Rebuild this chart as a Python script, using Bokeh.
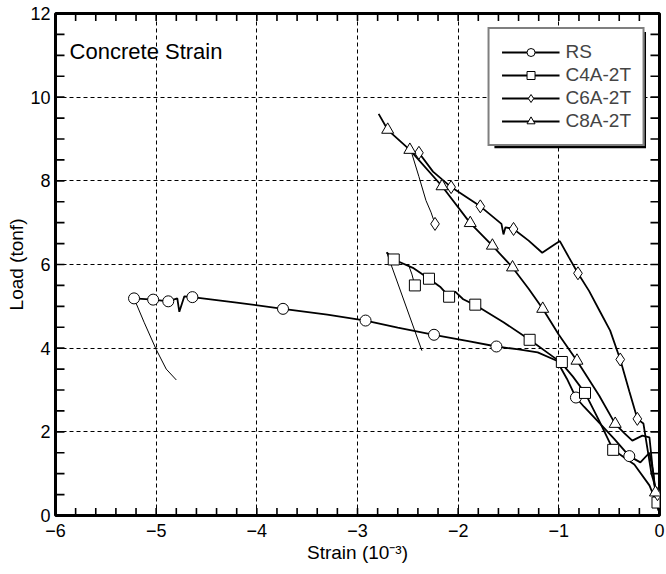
import numpy as np
from bokeh.plotting import figure
from bokeh.models import (Range1d, SingleIntervalTicker, Legend, LegendItem,
                          BoxAnnotation, Label)
from bokeh.embed import file_html
from bokeh.resources import INLINE

# ---------------- data ----------------
x_ticks = [-6, -5, -4, -3, -2, -1, 0]
y_ticks = [0, 2, 4, 6, 8, 10, 12]

rs_x = [0.0, -0.03, -0.06, -0.10, -0.19, -0.30, -0.45, -0.60, -0.75, -0.83, -0.92, -1.02, -1.21,
        -1.40, -1.62, -1.90, -2.24, -2.60, -2.92, -3.30, -3.74, -4.20, -4.64, -4.72, -4.77,
        -4.79, -4.88, -5.03, -5.22]
rs_y = [0.05, 0.30, 1.00, 1.50, 1.27, 1.42, 1.83, 2.22, 2.60, 2.82, 3.27, 3.70, 3.90,
        3.97, 4.04, 4.17, 4.32, 4.49, 4.66, 4.80, 4.94, 5.09, 5.22, 5.24, 4.87,
        5.19, 5.12, 5.16, 5.19]
rs_unload_x = [-5.22, -5.12, -5.00, -4.90, -4.80]
rs_unload_y = [5.19, 4.62, 3.97, 3.50, 3.24]
rs_mx = [-5.22, -5.03, -4.88, -4.64, -3.74, -2.92, -2.24, -1.62, -0.83, -0.30]
rs_my = [5.19, 5.16, 5.12, 5.22, 4.94, 4.66, 4.32, 4.04, 2.82, 1.42]

c4_x = [0.0, -0.03, -0.10, -0.25, -0.46, -0.60, -0.74, -0.86, -0.98, -1.10, -1.29, -1.55,
        -1.83, -1.95, -2.03, -2.09, -2.18, -2.29, -2.45, -2.64, -2.71]
c4_y = [0.05, 0.31, 0.72, 1.22, 1.57, 2.27, 2.93, 3.32, 3.66, 3.87, 4.20, 4.62,
        5.03, 5.17, 5.35, 5.23, 5.47, 5.66, 5.92, 6.12, 6.29]
c4_unload_x = [-2.71, -2.36, np.nan, -2.49, -2.46, -2.43]
c4_unload_y = [6.29, 3.94, np.nan, 5.97, 5.77, 5.50]
c4_mx = [-2.64, -2.43, -2.29, -2.09, -1.83, -1.29, -0.97, -0.74, -0.46, -0.02]
c4_my = [6.12, 5.50, 5.66, 5.23, 5.04, 4.20, 3.67, 2.93, 1.57, 0.31]

c6_x = [0.0, -0.02, -0.08, -0.12, -0.16, -0.22, -0.30, -0.39, -0.49, -0.59, -0.70, -0.81,
        -0.90, -0.99, -1.08, -1.165, -1.30, -1.45, -1.53, -1.55, -1.57, -1.78, -2.07,
        -2.25, -2.39, -2.46]
c6_y = [0.05, 0.51, 1.00, 1.60, 2.20, 2.31, 2.97, 3.73, 4.42, 4.87, 5.37, 5.79,
        6.17, 6.56, 6.42, 6.28, 6.57, 6.85, 6.89, 6.72, 6.97, 7.39, 7.85,
        8.22, 8.67, 8.69]
c6_unload_x = [-2.46, -2.39, -2.32, -2.27, -2.23]
c6_unload_y = [8.65, 8.10, 7.53, 7.25, 6.97]
c6_mx = [-2.39, -2.07, -1.78, -1.45, -2.23, -0.81, -0.39, -0.22, -0.02]
c6_my = [8.67, 7.85, 7.39, 6.85, 6.97, 5.79, 3.73, 2.31, 0.51]

c8_x = [0.0, -0.04, -0.07, -0.10, -0.17, -0.27, -0.35, -0.44, -0.60, -0.82, -1.00, -1.16,
        -1.30, -1.46, -1.66, -1.88, -2.16, -2.48, -2.70, -2.79]
c8_y = [0.05, 0.55, 1.17, 1.87, 1.91, 1.79, 1.97, 2.19, 2.87, 3.70, 4.32, 4.94,
        5.42, 5.93, 6.45, 6.99, 7.87, 8.74, 9.22, 9.60]
c8_mx = [-2.70, -2.48, -2.16, -1.88, -1.66, -1.46, -1.16, -0.82, -0.44, -0.04]
c8_my = [9.22, 8.74, 7.87, 6.99, 6.45, 5.93, 4.94, 3.70, 2.19, 0.55]

FONT = "Liberation Sans"
X0, X1 = x_ticks[0], x_ticks[-1]
Y0, Y1 = y_ticks[0], y_ticks[-1]

p = figure(width=666, height=574, x_range=Range1d(X0, X1), y_range=Range1d(Y0, Y1),
           output_backend="svg", toolbar_location=None,
           min_border_left=55, min_border_right=7, min_border_top=13, min_border_bottom=59,
           x_axis_label="Strain (10\u207b\u00b3)", y_axis_label="Load (tonf)")

p.outline_line_color = "black"
p.outline_line_width = 3
p.background_fill_color = "white"

xt = SingleIntervalTicker(interval=1, num_minor_ticks=5)
yt = SingleIntervalTicker(interval=2, num_minor_ticks=4)
p.xaxis.ticker = xt
p.yaxis.ticker = yt
p.xgrid.ticker = xt
p.ygrid.ticker = yt

for ax in (p.xaxis[0], p.yaxis[0]):
    ax.axis_line_color = None
    ax.major_tick_line_color = None
    ax.minor_tick_line_color = None
    ax.major_tick_in = 0
    ax.major_tick_out = 0
    ax.minor_tick_in = 0
    ax.minor_tick_out = 0
    ax.major_label_text_font = FONT
    ax.major_label_text_font_size = "18px"
    ax.major_label_text_color = "black"
    ax.axis_label_text_font = FONT
    ax.axis_label_text_font_size = "19px"
    ax.axis_label_text_font_style = "normal"
    ax.axis_label_text_color = "black"
p.xaxis.major_label_standoff = 8
p.xaxis.axis_label_standoff = 2
p.yaxis.major_label_standoff = 5
p.yaxis.axis_label_standoff = 0

for g in (p.xgrid[0], p.ygrid[0]):
    g.grid_line_color = "black"
    g.grid_line_width = 1
    g.grid_line_dash = "4 3"
    g.grid_line_alpha = 1

# inward ticks on all four sides, drawn as short segments from the frame edges
XPX = (X1 - X0) / 603.0   # data units per pixel (x)
YPX = (Y1 - Y0) / 501.0   # data units per pixel (y)
xm = np.linspace(X0, X1, int(round((X1 - X0) / 0.2)) + 1)
ym = np.linspace(Y0, Y1, int(round((Y1 - Y0) / 0.5)) + 1)
tl_x = 7.5 * YPX
tl_y = 9.0 * XPX
p.segment(x0=np.concatenate([xm, xm]), x1=np.concatenate([xm, xm]),
          y0=np.concatenate([np.full_like(xm, Y0), np.full_like(xm, Y1)]),
          y1=np.concatenate([np.full_like(xm, Y0 + tl_x), np.full_like(xm, Y1 - tl_x)]),
          line_color="black", line_width=1.6)
p.segment(x0=np.concatenate([np.full_like(ym, X0), np.full_like(ym, X1)]),
          x1=np.concatenate([np.full_like(ym, X0 + tl_y), np.full_like(ym, X1 - tl_y)]),
          y0=np.concatenate([ym, ym]), y1=np.concatenate([ym, ym]),
          line_color="black", line_width=1.6)

LW = 1.8
r_rs = p.line(rs_x, rs_y, line_color="black", line_width=LW)
p.line(rs_unload_x, rs_unload_y, line_color="black", line_width=1)
r_c4 = p.line(c4_x, c4_y, line_color="black", line_width=LW)
p.line(c4_unload_x, c4_unload_y, line_color="black", line_width=1)
r_c6 = p.line(c6_x, c6_y, line_color="black", line_width=LW)
p.line(c6_unload_x, c6_unload_y, line_color="black", line_width=1)
r_c8 = p.line(c8_x, c8_y, line_color="black", line_width=LW)

m_rs = p.scatter(rs_mx, rs_my, marker="circle", size=11, fill_color="white", line_color="black")
m_c4 = p.scatter(c4_mx, c4_my, marker="square", size=11, fill_color="white", line_color="black")
m_c6 = p.scatter(c6_mx, c6_my, marker="diamond", size=13, fill_color="white", line_color="black")
m_c8 = p.scatter(c8_mx, c8_my, marker="triangle", size=12, fill_color="white", line_color="black")

p.add_layout(Label(x=-5.86, y=11.08, text="Concrete Strain", text_font=FONT,
                   text_font_size="22px", text_color="black", text_baseline="alphabetic"))

shadow = BoxAnnotation(left=-1.64, right=-0.134, top=11.56, bottom=8.78,
                       fill_color="black", fill_alpha=1, line_color=None)
p.add_layout(shadow)

legend = Legend(items=[LegendItem(label="RS", renderers=[r_rs, m_rs]),
                       LegendItem(label="C4A-2T", renderers=[r_c4, m_c4]),
                       LegendItem(label="C6A-2T", renderers=[r_c6, m_c6]),
                       LegendItem(label="C8A-2T", renderers=[r_c8, m_c8])],
                location="top_right", margin=14, padding=12, spacing=1,
                glyph_width=58, glyph_height=20, label_height=20, label_standoff=6,
                label_text_font=FONT, label_text_font_size="19px",
                border_line_color="black", border_line_width=2,
                background_fill_color="white", background_fill_alpha=1)
p.add_layout(legend)

open("out.html", "w").write(file_html(p, INLINE))
